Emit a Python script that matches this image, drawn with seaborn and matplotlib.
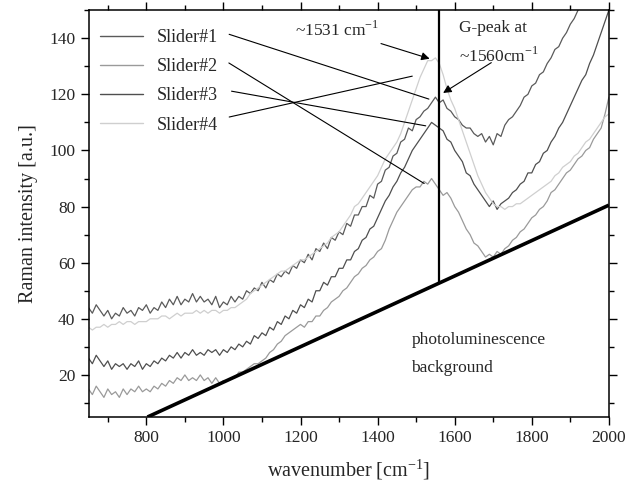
import numpy as np
import pandas as pd
import matplotlib
matplotlib.use('Agg')
import matplotlib.pyplot as plt
import seaborn as sns

# wavenumber grid (cm-1), one value every 10 cm-1
wavenumber = np.arange(650, 2001, 10)

slider1 = [44, 42, 45, 43, 41, 43, 40, 42, 41, 44,
           42, 43, 41, 44, 43, 45, 42, 44, 43, 46,
           44, 47, 45, 48, 45, 47, 46, 49, 46, 48,
           46, 47, 45, 48, 44, 46, 45, 48, 46, 48,
           47, 50, 49, 51, 50, 53, 51, 54, 53, 56,
           55, 57, 56, 59, 58, 61, 60, 63, 61, 65,
           64, 67, 65, 69, 68, 71, 70, 74, 73, 77,
           77, 80, 80, 84, 83, 88, 89, 93, 94, 98,
           99, 103, 104, 108, 107, 111, 112, 114, 115, 117,
           119, 117, 118, 115, 114, 112, 111, 109, 108, 108,
           106, 105, 106, 103, 105, 102, 106, 105, 109, 111,
           112, 114, 116, 119, 120, 123, 124, 127, 128, 131,
           133, 136, 137, 140, 142, 145, 147, 150, 152, 154,
           156, 158, 160, 162, 164, 166]

slider2 = [15, 13, 16, 14, 12, 15, 13, 14, 12, 15,
           13, 15, 14, 16, 14, 15, 14, 16, 15, 17,
           16, 18, 17, 19, 18, 20, 18, 19, 18, 20,
           18, 19, 17, 19, 17, 18, 18, 19, 19, 21,
           21, 22, 23, 24, 24, 25, 26, 28, 29, 31,
           32, 34, 35, 36, 37, 38, 37, 39, 39, 41,
           41, 43, 44, 46, 47, 48, 50, 51, 53, 55,
           56, 58, 59, 61, 62, 64, 65, 68, 72, 75,
           78, 80, 82, 84, 86, 87, 87, 89, 88, 90,
           88, 86, 84, 85, 83, 80, 78, 75, 72, 70,
           67, 66, 64, 62, 63, 62, 64, 63, 65, 66,
           68, 69, 71, 72, 74, 76, 77, 79, 80, 82,
           85, 86, 88, 90, 92, 93, 95, 97, 98, 100,
           101, 104, 106, 108, 113, 119]

slider3 = [26, 24, 27, 25, 23, 25, 22, 24, 23, 24,
           22, 24, 23, 25, 22, 24, 23, 25, 24, 26,
           25, 27, 26, 28, 26, 28, 27, 29, 27, 28,
           27, 29, 28, 29, 27, 29, 28, 30, 29, 31,
           30, 32, 31, 34, 33, 35, 34, 37, 36, 39,
           38, 41, 40, 43, 42, 45, 44, 47, 46, 50,
           50, 53, 52, 55, 55, 58, 58, 61, 61, 64,
           65, 68, 69, 72, 73, 76, 79, 82, 84, 87,
           89, 92, 94, 97, 100, 102, 104, 106, 108, 110,
           109, 108, 107, 104, 103, 100, 98, 96, 92, 91,
           88, 86, 84, 82, 80, 82, 79, 81, 82, 83,
           85, 86, 88, 89, 92, 92, 95, 96, 99, 100,
           103, 105, 108, 110, 113, 116, 119, 122, 125, 127,
           131, 134, 138, 142, 146, 150]

slider4 = [37, 36, 37, 37, 38, 37, 38, 38, 39, 38,
           39, 39, 38, 39, 39, 39, 40, 40, 40, 41,
           41, 40, 41, 42, 41, 42, 42, 42, 43, 42,
           43, 42, 43, 43, 42, 43, 43, 44, 44, 45,
           46, 47, 49, 50, 51, 52, 53, 54, 55, 56,
           57, 57, 58, 59, 60, 61, 61, 62, 63, 64,
           65, 66, 67, 69, 70, 71, 73, 75, 77, 80,
           81, 83, 85, 87, 89, 91, 94, 97, 99, 101,
           103, 106, 110, 114, 118, 122, 126, 129, 132, 132,
           133, 131, 127, 122, 118, 115, 111, 107, 103, 99,
           95, 91, 88, 85, 83, 81, 80, 80, 79, 80,
           80, 81, 81, 82, 83, 84, 85, 86, 87, 88,
           89, 91, 92, 94, 95, 96, 98, 99, 101, 103,
           104, 106, 108, 110, 112, 113]

labels = ['Slider#1', 'Slider#2', 'Slider#3', 'Slider#4']
colors = ['#5a5a5a', '#9a9a9a', '#4f4f4f', '#cfcfcf']

# photoluminescence background line and G-peak marker
bg_x = [803, 2000]
bg_y = [5, 80.5]
gpeak_x = 1560
gpeak_base = 53

sns.set_style('ticks')
plt.rcParams['font.family'] = ['Liberation Serif', 'DejaVu Serif']
plt.rcParams['mathtext.fontset'] = 'custom'
plt.rcParams['mathtext.rm'] = 'Liberation Serif'

fig = plt.figure(figsize=(6.29, 4.84), dpi=100)
ax = fig.add_axes([0.1407, 0.1384, 0.8273, 0.8406])

for series, lab, col in zip([slider1, slider2, slider3, slider4], labels, colors):
    sns.lineplot(x=wavenumber, y=series, ax=ax, color=col, lw=0.9,
                 label=lab, estimator=None)

ax.plot(bg_x, bg_y, color='black', lw=2.6, solid_capstyle='butt')
ax.plot([gpeak_x, gpeak_x], [gpeak_base, 150], color='black', lw=1.6)

ax.set_xlim(650, 2000)
ax.set_ylim(5, 150)
ax.set_xticks(range(800, 2001, 200))
ax.set_xticks(range(700, 2001, 100), minor=True)
ax.set_yticks(range(20, 141, 20))
ax.set_yticks(range(10, 151, 10), minor=True)
ax.tick_params(which='both', direction='out', labelsize=12.5, color='black',
               top=True, right=True)
ax.tick_params(which='major', length=6, width=1)
ax.tick_params(which='minor', length=3.5, width=1)
for sp in ax.spines.values():
    sp.set_linewidth(1.1)
    sp.set_color('black')

ax.set_xlabel('wavenumber [cm$^{\\mathregular{-1}}$]', fontsize=14.5, labelpad=8)
ax.set_ylabel('Raman intensity [a.u.]', fontsize=14.5, labelpad=8)

leg = ax.legend(loc='upper left', bbox_to_anchor=(0.022, 0.953), frameon=False,
                fontsize=13, handlelength=2.4, handletextpad=0.75,
                labelspacing=0.67, borderpad=0, borderaxespad=0)
for line in leg.get_lines():
    line.set_linewidth(1.0)

# leader lines from the legend labels to the curves
leaders = [((1008, 141.7), (1540, 118)),
           ((1008, 131.7), (1527, 87.7)),
           ((1014, 121.3), (1532, 108.6)),
           ((1008, 111.7), (1497, 126.7))]
for start, end in leaders:
    ax.annotate('', xy=end, xytext=start,
                arrowprops=dict(arrowstyle='-', color='black', lw=0.8))

ax.annotate('~1531 cm$^{\\mathregular{-1}}$', xy=(1535, 132.7), xytext=(1185, 143),
            fontsize=12.5, va='center', ha='left',
            arrowprops=dict(arrowstyle='-|>', color='black', lw=0.8,
                            mutation_scale=12, shrinkA=2, shrinkB=0))
ax.text(1610, 143.8, 'G-peak at', fontsize=12.5, va='center', ha='left')
ax.annotate('~1560cm$^{\\mathregular{-1}}$', xy=(1570, 120.5), xytext=(1610, 133.5),
            fontsize=12.5, va='center', ha='left')
ax.annotate('', xy=(1570, 120.5), xytext=(1695, 131.3),
            arrowprops=dict(arrowstyle='-|>', color='black', lw=0.8,
                            mutation_scale=12, shrinkA=0, shrinkB=0))

ax.text(1488, 32.5, 'photoluminescence', fontsize=12.5, va='center', ha='left')
ax.text(1488, 22.5, 'background', fontsize=12.5, va='center', ha='left')

fig.savefig('out.png', dpi=100)
